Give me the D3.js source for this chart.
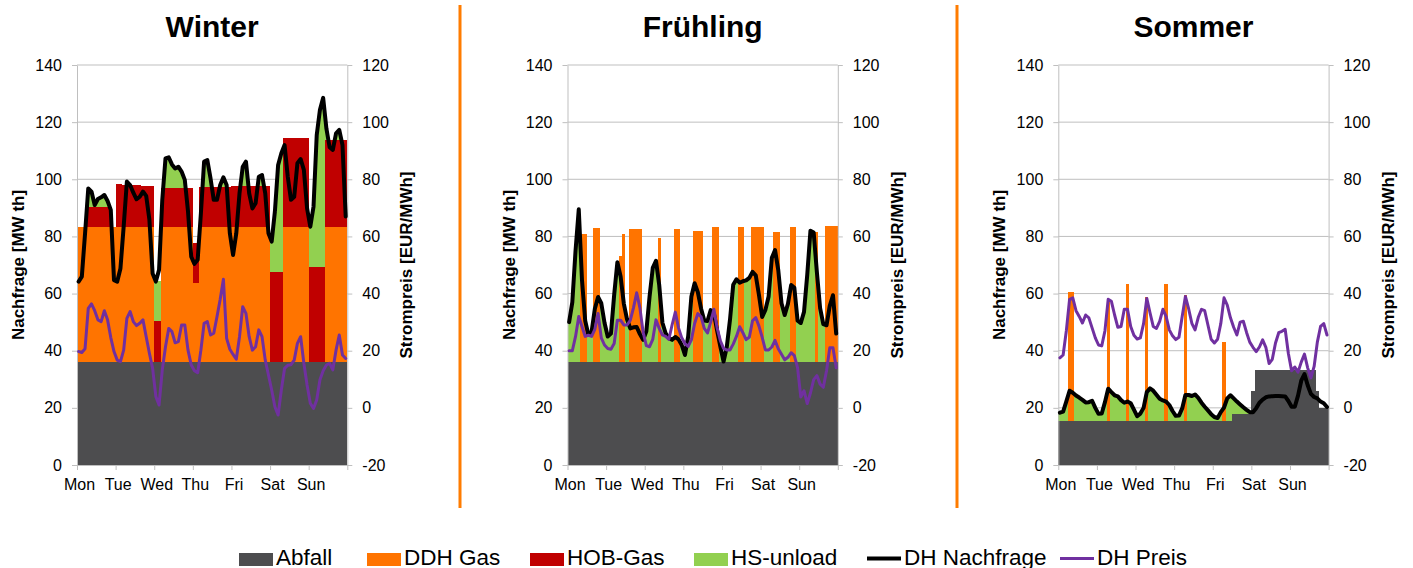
<!DOCTYPE html>
<html>
<head>
<meta charset="utf-8">
<script src="https://cdn.jsdelivr.net/npm/d3@7"></script>
<style>
  body { margin: 0; background: #ffffff; }
  text { font-family: "Liberation Sans", Arial, sans-serif; fill: #000; }
</style>
</head>
<body>
<svg id="chart" width="1413" height="568"></svg>
<script>
// ---- categories and tick labels ----
const seasons = ["Winter", "Frühling", "Sommer"];
const dayLabels = ["Mon", "Tue", "Wed", "Thu", "Fri", "Sat", "Sun"];
const leftTicks = [0, 20, 40, 60, 80, 100, 120, 140];
const rightTicks = [-20, 0, 20, 40, 60, 80, 100, 120];
const stackKeys = ["Abfall", "DDH Gas", "HOB-Gas", "HS-unload"];
const lineKeys = ["DH Nachfrage", "DH Preis"];
const leftTitle = "Nachfrage [MW th]";
const rightTitle = "Strompreis [EUR/MWh]";

// ---- week profiles in 2-hour steps (12 per day, Mon..Sun) ----
// Winter
const winterAbfall = [
  36.2,36.2,36.2,36.2,36.2,36.2,36.2,36.2,36.2,36.2,36.2,36.2,
  36.2,36.2,36.2,36.2,36.2,36.2,36.2,36.2,36.2,36.2,36.2,36.2,
  36.2,36.2,36.2,36.2,36.2,36.2,36.2,36.2,36.2,36.2,36.2,36.2,
  36.2,36.2,36.2,36.2,36.2,36.2,36.2,36.2,36.2,36.2,36.2,36.2,
  36.2,36.2,36.2,36.2,36.2,36.2,36.2,36.2,36.2,36.2,36.2,36.2,
  36.2,36.2,36.2,36.2,36.2,36.2,36.2,36.2,36.2,36.2,36.2,36.2,
  36.2,36.2,36.2,36.2,36.2,36.2,36.2,36.2,36.2,36.2,36.2,36.2];
const winterDDH = [
  47.2,47.2,47.2,47.2,47.2,47.2,47.2,47.2,47.2,47.2,47.2,47.2,
  47.2,47.2,47.2,47.2,47.2,47.2,47.2,47.2,47.2,47.2,47.2,47.2,
  0,0,47.2,47.2,47.2,47.2,47.2,47.2,47.2,47.2,47.2,47.2,
  27.6,27.6,47.2,47.2,47.2,47.2,47.2,47.2,47.2,47.2,47.2,47.2,
  47.2,47.2,47.2,47.2,47.2,47.2,47.2,47.2,47.2,47.2,47.2,47.2,
  0,0,0,0,47.2,47.2,47.2,47.2,47.2,47.2,47.2,47.2,
  0,0,0,0,0,47.2,47.2,47.2,47.2,47.2,47.2,47.2];
const winterHOB = [
  0,0,0,7,7,7,7,7,7,7,7,0,
  14.8,14.8,14.7,14.7,14.6,14.6,14.5,14.5,14.4,14.4,14.3,14.2,
  14.2,14.2,13.6,13.6,13.6,13.6,13.6,13.6,13.6,13.6,13.6,13.6,
  14,14,14,14,14,14,14,14,14,14,14,14,
  14.2,14.2,14.2,14.2,14.2,14.2,14.2,14.2,14.2,14.2,14.2,14.2,
  31.5,31.5,31.5,31.5,30.9,30.9,30.9,30.9,30.9,30.9,30.9,30.9,
  33.2,33.2,33.2,33.2,33.2,30.35,30.35,30.35,30.35,30.35,30.35,30.35];
const winterHS = [
  0,0,0,6.4,5.3,0.6,2.7,3.3,4.1,2,0,0,
  0,0,0,1.2,0,0,0,0,0,0,0,0,
  14,14,0,10.3,10.7,8.2,6.8,7.4,5.7,2.8,0,0,
  0,0,0,8.8,9.3,2.9,0,0,0.6,3.3,0.6,0,
  0,0,0,6.8,8.6,0,0,0,3.3,3.9,0,0,
  10.5,21,37.3,41.4,0,0,0,0,0,0,0,0,
  14,21,46.1,54.9,59.1,4,0,0,2.3,3.5,0,0];
const winterDemand = [
  64.2,65.9,81,96.8,95.7,91,93.1,93.7,94.5,92.4,89.3,64.7,
  64.2,68.8,83.4,99.2,98,95.3,93,93.9,95.7,94.2,85.8,67,
  64.2,68.3,92.8,107.3,107.7,105.2,103.8,104.4,102.7,99.8,88.7,72.9,
  70.4,71.8,88.1,106.2,106.7,100.3,92.8,92.8,98,100.7,98,81.1,
  73.5,81.1,95.1,104.4,106.2,95.1,89.8,91.6,100.9,101.5,95.1,81.1,
  78.2,88.7,105,109.1,112,100.9,92.8,93.9,105.6,107.1,103.3,89.8,
  83.4,90.4,115.5,124.3,128.5,117.8,111.2,110.3,116.1,117.3,112,87];
const winterPrice = [
  19.7,19.4,20.7,34.8,36.4,34,30.8,30.2,34,30.8,24.6,19.7,
  16.7,16.2,20.2,31.3,33.7,30.2,28.8,29.6,30.8,24.9,19.1,13.8,
  4,1,13.3,21.4,27.8,26.7,22.8,23.2,29,29,20.2,15,
  13,12.3,20.2,29.6,30.2,25.5,26.1,31.9,38,45,24.3,20.5,
  18.7,17,24.9,35.4,33.1,24.9,20.2,21.4,27.3,24.9,16.7,11.5,
  6.25,0.4,-2.5,6.25,13.8,14.9,15.1,16.7,22.6,24.9,15.6,8,
  1.6,-0.2,2.8,9.8,13,15,15.6,13.3,20.2,25.5,18.5,17.3];

// Frühling
const springAbfall = [
  36.2,36.2,36.2,36.2,36.2,36.2,36.2,36.2,36.2,36.2,36.2,36.2,
  36.2,36.2,36.2,36.2,36.2,36.2,36.2,36.2,36.2,36.2,36.2,36.2,
  36.2,36.2,36.2,36.2,36.2,36.2,36.2,36.2,36.2,36.2,36.2,36.2,
  36.2,36.2,36.2,36.2,36.2,36.2,36.2,36.2,36.2,36.2,36.2,36.2,
  36.2,36.2,36.2,36.2,36.2,36.2,36.2,36.2,36.2,36.2,36.2,36.2,
  36.2,36.2,36.2,36.2,36.2,36.2,36.2,36.2,36.2,36.2,36.2,36.2,
  36.2,36.2,36.2,36.2,36.2,36.2,36.2,36.2,36.2,36.2,36.2,36.2];
const springDDH = [
  0,0,0,0,44.8,44.8,0,0,46.8,46.8,0,0,
  0,0,0,0,36.8,44.8,0,46.3,46.3,46.3,46.3,0,
  0,0,0,0,43.1,0,0,0,0,46.3,46.3,0,
  0,0,0,45.8,45.8,45.8,0,0,0,47.2,47.2,0,
  0,0,0,0,0,47.2,47.2,0,0,47.2,47.2,47.2,
  47.2,0,0,0,45.5,45.5,0,0,0,47.2,47.2,0,
  0,0,0,0,0,45.5,0,0,47.5,47.5,47.5,47.5];
const springHOB = [
  0,0,0,0,0,0,0,0,0,0,0,0,
  0,0,0,0,0,0,0,0,0,0,0,0,
  0,0,0,0,0,0,0,0,0,0,0,0,
  0,0,0,0,0,0,0,0,0,0,0,0,
  0,0,0,0,0,0,0,0,0,0,0,0,
  0,0,0,0,0,0,0,0,0,0,0,0,
  0,0,0,0,0,0,0,0,0,0,0,0];
const springHS = [
  13.8,20.8,38.8,53.3,0,0,9.3,10.5,0,0,20.4,13.6,
  8.8,9.8,23.3,34.8,0,0,14.8,0,0,0,0,7.6,
  10.6,22.7,32.8,35.3,0,13.6,9.9,8.2,7.6,0,0,5.8,
  2.3,8.8,22.8,0,0,0,14.4,14.2,18,0,0,5.2,
  0,5.1,14.7,26.9,28.8,0,0,28.4,29.3,0,0,0,
  0,18.1,22.8,36.3,0,0,20.4,16.3,20.2,0,0,14.3,
  13.5,17.4,30.3,45.8,45.2,0,18.7,13.1,0,0,0,0];
const springDemand = [
  50,57,75,89.5,64.8,50.5,45.5,46.7,54.7,58.8,56.6,49.8,
  45,46,59.5,71,66,56.5,51,47.8,48.2,48.3,45.8,43.8,
  46.8,58.9,69,71.5,63,49.8,46.1,44.4,43.8,44.8,44,42,
  38.5,45,59,63.6,60.5,54.8,50.6,50.4,54.2,53,47,41.4,
  36.2,41.3,50.9,63.1,65,63.8,64.3,64.6,65.5,67.6,66.4,59.5,
  51.8,54.3,59,72.5,75.2,68.2,56.6,52.5,56.4,63,62,50.5,
  49.7,53.6,66.5,82,81.4,67.5,54.9,49.3,48.9,55.7,59.4,46];
const springPrice = [
  20,20,25,32,28.5,25,25.4,25,27.5,33,24.5,22,
  20.8,20.5,22.5,30.7,30.7,29,29,30.6,35,40.3,35,26.5,
  21.8,21.4,24,30.8,27.8,25.5,25,24,29,33.5,28,24.5,
  22.5,21.5,23.8,29.5,33,31.9,27.8,26.2,30,34.5,28,23.5,
  20.8,20.25,20.25,22.3,25,28.4,26.3,23.9,24.7,30.5,31.6,28.6,
  24.7,20.25,20.25,21.3,23.6,20.7,18.8,16.8,17.7,19.3,18.3,14,
  3.8,6,1.5,5.2,9.9,11.3,8.3,7.2,13,21,21,14];

// Sommer
const summerAbfall = [
  15.5,15.5,15.5,15.5,15.5,15.5,15.5,15.5,15.5,15.5,15.5,15.5,
  15.5,15.5,15.5,15.5,15.5,15.5,15.5,15.5,15.5,15.5,15.5,15.5,
  15.5,15.5,15.5,15.5,15.5,15.5,15.5,15.5,15.5,15.5,15.5,15.5,
  15.5,15.5,15.5,15.5,15.5,15.5,15.5,15.5,15.5,15.5,15.5,15.5,
  15.5,15.5,15.5,15.5,15.5,15.5,17.85,17.85,17.85,17.85,17.85,17.85,
  26,33.2,33.2,33.2,33.2,33.2,33.2,33.2,33.2,33.2,33.2,33.2,
  33.2,33.2,33.2,33.2,33.2,33.2,33.2,33.2,26,19.8,19.8,19.8];
const summerDDH = [
  0,0,0,45,45.2,0,0,0,0,0,0,0,
  0,0,0,41.7,0,0,0,0,0,47.85,0,0,
  0,0,0,43.4,0,0,0,0,0,47.85,0,0,
  0,0,0,44,0,0,0,0,0,0,0,0,
  0,0,0,27.7,0,0,0,0,0,0,0,0,
  0,0,0,0,0,0,0,0,0,0,0,0,
  0,0,0,0,0,0,0,0,0,0,0,0];
const summerHOB = [
  0,0,0,0,0,0,0,0,0,0,0,0,
  0,0,0,0,0,0,0,0,0,0,0,0,
  0,0,0,0,0,0,0,0,0,0,0,0,
  0,0,0,0,0,0,0,0,0,0,0,0,
  0,0,0,0,0,0,0,0,0,0,0,0,
  0,0,0,0,0,0,0,0,0,0,0,0,
  0,0,0,0,0,0,0,0,0,0,0,0];
const summerHS = [
  2.8,3.2,6.8,0,0,8.8,8.1,7.3,6.4,6.5,7,4.5,
  2.4,2.5,6.5,0,10,8.9,8.5,7.2,6.3,0,6.1,3.9,
  1.6,2.5,4.5,0,11.3,10.5,9.1,7.7,7.1,0,5.5,3.4,
  1.7,1.8,4.3,0,9,8.65,9.2,8,6.3,4.9,3.6,2.3,
  1.3,0.95,3,0,7.8,8.9,5.45,4.35,3.35,2.35,1.45,0.65,
  0,0,0,0,0,0,0,0,0,0,0,0,
  0,0,0,0,0,0,0,0,0,0,0,0];
const summerDemand = [
  18.3,18.7,22.3,26,25.3,24.3,23.6,22.8,21.9,22,22.5,20,
  17.9,18,22,26.7,25.5,24.4,24,22.7,21.8,22.2,21.6,19.4,
  17.1,18,20,25.5,26.8,26,24.6,23.2,22.6,22.2,21,18.9,
  17.2,17.3,19.8,24.5,24.5,24.15,24.7,23.5,21.8,20.4,19.1,17.8,
  16.8,16.45,18.5,20.1,23.3,24.4,23.3,22.2,21.2,20.2,19.3,18.5,
  18.5,19.9,21.8,22.9,23.7,24,24.1,24.15,24.15,24.1,24,22.4,
  20.4,20.4,24.3,29.5,31.8,27.9,24.9,23.8,23.3,22.2,21.6,20.3];
const summerPrice = [
  17.5,18.5,27,38,38.5,34,32,29.7,32.5,31.5,28,24.5,
  22,21.7,27,38,37.3,32.5,28.2,28.5,34.5,34.5,28.5,25.4,
  24.1,24.5,29.5,38.3,33.3,28.5,27.8,30.3,34.5,32,27.3,25.2,
  23.9,24.7,32,39,34.7,29.6,27.3,31.7,34.5,34,29,24,
  22.7,24,29.5,38.5,36,31.5,28.2,25.5,30,30.3,26.4,23,
  21.2,19.7,21.3,23.8,21.2,15.5,17,22.7,26.3,26.8,27.5,19,
  13,14.3,12.5,16,18.8,14,10.5,14.5,23,28.5,29.5,25.5];

// ---- styling ----
const colors = {
  "Abfall": "#4d4d4f",
  "DDH Gas": "#ff7400",
  "HOB-Gas": "#c00000",
  "HS-unload": "#92d050",
  "DH Nachfrage": "#000000",
  "DH Preis": "#7030a0"
};
const lineWidths = { "DH Nachfrage": 4, "DH Preis": 3 };
const gridColor = "#bfbfbf";
const stepHours = 2;

const panels = [
  { title: seasons[0], series: [winterAbfall, winterDDH, winterHOB, winterHS], demand: winterDemand, price: winterPrice },
  { title: seasons[1], series: [springAbfall, springDDH, springHOB, springHS], demand: springDemand, price: springPrice },
  { title: seasons[2], series: [summerAbfall, summerDDH, summerHOB, summerHS], demand: summerDemand, price: summerPrice }
];

const svg = d3.select("#chart");
const plotLefts = [77, 567.5, 1058.3];
const plotWidth = 270.3;
const plotTop = 65, plotBottom = 465;

const stack = d3.stack().keys(stackKeys);

panels.forEach((p, pi) => {
  const x0 = plotLefts[pi], x1 = x0 + plotWidth;
  const x = d3.scaleLinear().domain([0, 168]).range([x0, x1]);
  const yL = d3.scaleLinear().domain([0, 140]).range([plotBottom, plotTop]);
  const yR = d3.scaleLinear().domain([-20, 120]).range([plotBottom, plotTop]);
  const g = svg.append("g");

  // horizontal gridlines
  g.append("g").selectAll("line").data(leftTicks).join("line")
    .attr("x1", x0).attr("x2", x1)
    .attr("y1", d => yL(d)).attr("y2", d => yL(d))
    .attr("stroke", gridColor).attr("stroke-width", 1);

  // stacked generation bars
  const rows = p.demand.map((_, i) => {
    const r = { hour: i * stepHours };
    stackKeys.forEach((k, ki) => r[k] = p.series[ki][i]);
    return r;
  });
  const layers = stack(rows);
  layers.forEach(layer => {
    g.append("g").attr("shape-rendering", "crispEdges")
      .selectAll("rect").data(layer.filter(d => d[1] - d[0] > 0)).join("rect")
      .attr("x", d => x(d.data.hour))
      .attr("width", d => x(d.data.hour + stepHours) - x(d.data.hour))
      .attr("y", d => yL(d[1]))
      .attr("height", d => yL(d[0]) - yL(d[1]))
      .attr("fill", colors[layer.key]);
  });

  // axes
  const axL = g.append("g").attr("transform", `translate(${x0},0)`)
    .call(d3.axisLeft(yL).tickValues(leftTicks).tickFormat(d => String(d))
      .tickSizeInner(5).tickSizeOuter(0).tickPadding(10));
  const axR = g.append("g").attr("transform", `translate(${x1},0)`)
    .call(d3.axisRight(yR).tickValues(rightTicks).tickFormat(d => String(d))
      .tickSizeInner(5).tickSizeOuter(0).tickPadding(10));
  const axB = g.append("g").attr("transform", `translate(0,${plotBottom})`)
    .call(d3.axisBottom(x).tickValues(d3.range(0, 169, 24)).tickSizeInner(5).tickSizeOuter(0).tickPadding(8.5)
      .tickFormat((d, i) => dayLabels[i] || ""));
  [axL, axR, axB].forEach(ax => {
    ax.selectAll("path.domain").attr("stroke", gridColor);
    ax.selectAll(".tick line").attr("stroke", gridColor);
    ax.selectAll("text").attr("font-size", 16).attr("fill", "#000")
      .attr("font-family", '"Liberation Sans", Arial, sans-serif');
  });
  axB.selectAll(".tick text").attr("dx", 2);

  // demand (left axis) and price (right axis) lines
  const demandLine = d3.line().x((d, i) => x(i * stepHours + stepHours / 2)).y(d => yL(d));
  const priceLine = d3.line().x((d, i) => x(i * stepHours + stepHours / 2)).y(d => yR(d));
  g.append("path").datum(p.demand).attr("d", demandLine)
    .attr("fill", "none").attr("stroke", colors["DH Nachfrage"]).attr("stroke-width", lineWidths["DH Nachfrage"])
    .attr("stroke-linejoin", "round").attr("stroke-linecap", "round");
  g.append("path").datum(p.price).attr("d", priceLine)
    .attr("fill", "none").attr("stroke", colors["DH Preis"]).attr("stroke-width", lineWidths["DH Preis"])
    .attr("stroke-linejoin", "round").attr("stroke-linecap", "round");

  // titles
  g.append("text").attr("x", (x0 + x1) / 2).attr("y", 37)
    .attr("text-anchor", "middle").attr("font-size", 30).attr("font-weight", "bold")
    .text(p.title);
  g.append("text").attr("transform", `translate(${x0 - 53},265) rotate(-90)`)
    .attr("text-anchor", "middle").attr("font-size", 17).attr("font-weight", "bold")
    .text(leftTitle);
  g.append("text").attr("transform", `translate(${x1 + 65},265) rotate(-90)`)
    .attr("text-anchor", "middle").attr("font-size", 17).attr("font-weight", "bold")
    .text(rightTitle);
});

// panel separators
svg.append("g").selectAll("line").data([460, 957]).join("line")
  .attr("x1", d => d).attr("x2", d => d).attr("y1", 5).attr("y2", 508)
  .attr("stroke", "#ff7c00").attr("stroke-width", 3);

// legend
const legendItems = [
  { key: "Abfall", kind: "box", x: 239 },
  { key: "DDH Gas", kind: "box", x: 367 },
  { key: "HOB-Gas", kind: "box", x: 530 },
  { key: "HS-unload", kind: "box", x: 694 },
  { key: "DH Nachfrage", kind: "line", x: 867 },
  { key: "DH Preis", kind: "line", x: 1060 }
];
const lg = svg.append("g");
legendItems.forEach(it => {
  if (it.kind === "box") {
    lg.append("rect").attr("x", it.x).attr("y", 553).attr("width", 34).attr("height", 13)
      .attr("fill", colors[it.key]);
  } else {
    lg.append("line").attr("x1", it.x).attr("x2", it.x + 34).attr("y1", 558.5).attr("y2", 558.5)
      .attr("stroke", colors[it.key]).attr("stroke-width", lineWidths[it.key]);
  }
  lg.append("text").attr("x", it.x + 37).attr("y", 564.5).attr("font-size", 22.5).text(it.key);
});
</script>
</body>
</html>
